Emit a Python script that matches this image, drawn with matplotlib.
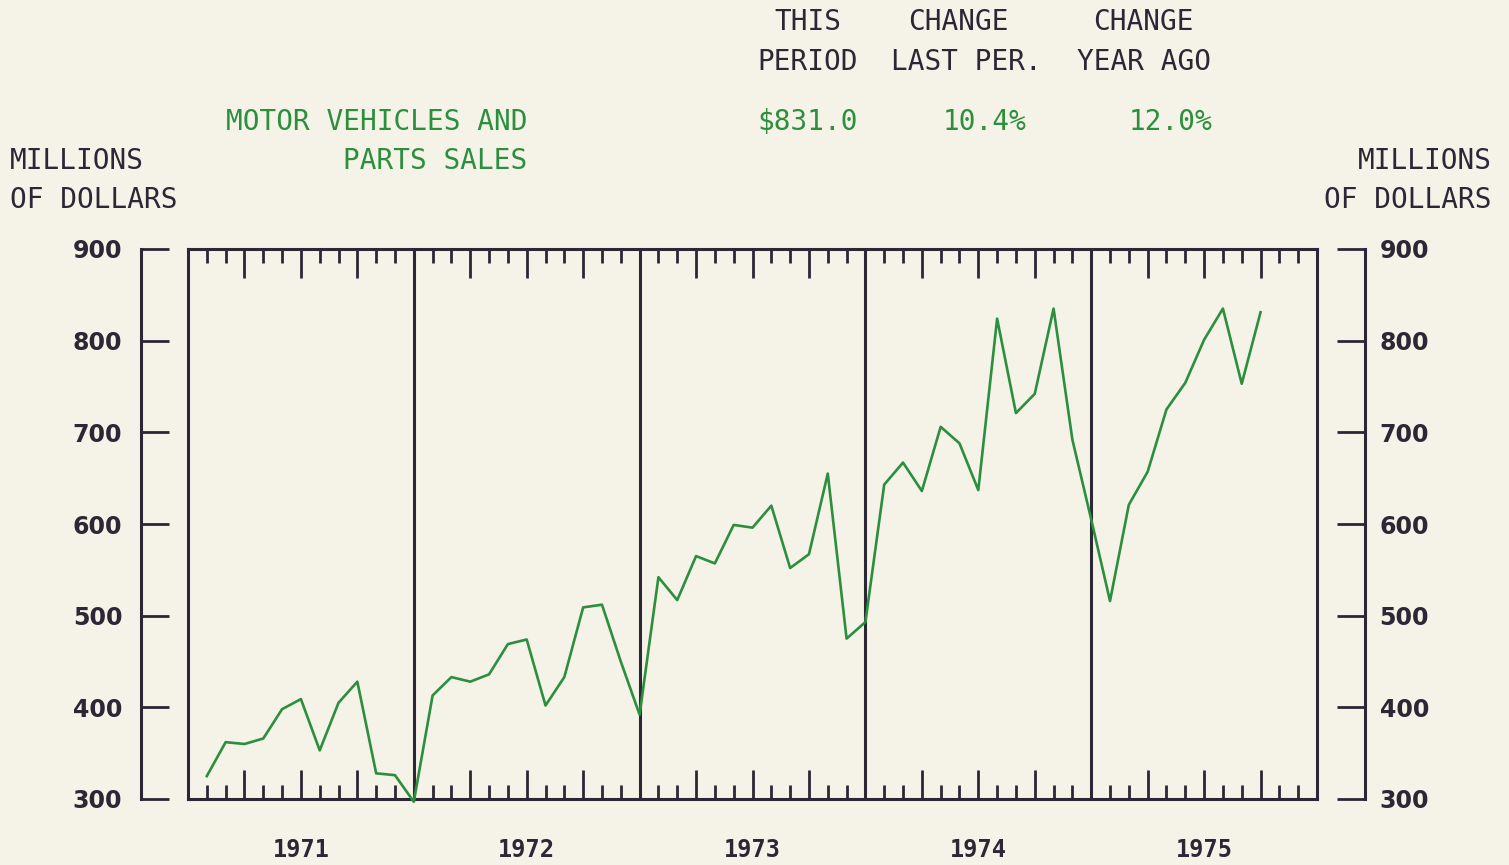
import numpy as np
import matplotlib
matplotlib.use("Agg")
import matplotlib.pyplot as plt
import matplotlib.transforms as mtransforms

# monthly sales, Jan 1971 .. Sep 1975 (millions of dollars)
sales_1971 = [325, 362, 360, 366, 398, 409, 353, 405, 428, 328, 326, 297]
sales_1972 = [413, 433, 428, 436, 469, 474, 402, 433, 509, 512, 450, 392]
sales_1973 = [542, 517, 565, 557, 599, 596, 620, 552, 567, 655, 475, 493]
sales_1974 = [643, 667, 636, 706, 688, 637, 824, 721, 742, 835, 692, 605]
sales_1975 = [516, 621, 657, 725, 754, 801, 835, 753, 831]

years = ["1971", "1972", "1973", "1974", "1975"]
y_ticks = [300, 400, 500, 600, 700, 800, 900]

title_lines = ["MOTOR VEHICLES AND", "PARTS SALES"]
col_heads = [("THIS", "PERIOD"), ("CHANGE", "LAST PER."), ("CHANGE", "YEAR AGO")]
col_values = ["$831.0", "10.4%", "12.0%"]

sales = sales_1971 + sales_1972 + sales_1973 + sales_1974 + sales_1975
months = np.arange(1, len(sales) + 1)

W, H = 1509, 865
bg = "#f5f2e8"
ink = "#2b2735"
green = "#2c8f3d"
mono = "DejaVu Sans Mono"

fig = plt.figure(figsize=(W / 100, H / 100), dpi=100, facecolor=bg)

bottom = (H - 799) / H
height = 550 / H

# main plot box
ax = fig.add_axes([188 / W, bottom, 1129 / W, height])
ax.set_facecolor(bg)
ax.set_xlim(0, 60)
ax.set_ylim(300, 900)
for s in ax.spines.values():
    s.set_color(ink)
    s.set_linewidth(2.2)

all_m = np.arange(1, 60)
major = [m for m in all_m if m % 3 == 0 and m % 12 != 0]
minor = [m for m in all_m if m % 3 != 0]
ax.set_xticks(major)
ax.set_xticks(minor, minor=True)
ax.set_yticks([])
ax.tick_params(axis="x", which="both", direction="in", top=True, bottom=True,
               labelbottom=False, colors=ink, width=2.0)
ax.tick_params(axis="x", which="major", length=21)
ax.tick_params(axis="x", which="minor", length=10)

for d in [12, 24, 36, 48]:
    ax.axvline(d, color=ink, lw=2.2)

ax.plot(months, sales, color=green, lw=1.9, clip_on=False, zorder=5,
        solid_joinstyle="round")

trans = mtransforms.blended_transform_factory(ax.transData, ax.transAxes)
for i, yr in enumerate(years):
    ax.text(i * 12 + 6, -0.092, yr, transform=trans, ha="center", va="center",
            fontsize=17, fontweight="bold", family=mono, color=ink)

# left and right value scales
axl = fig.add_axes([141 / W, bottom, 28 / W, height])
axr = fig.add_axes([1337 / W, bottom, 28 / W, height])
for a, side in [(axl, "left"), (axr, "right")]:
    a.patch.set_alpha(0)
    a.set_ylim(300, 900)
    a.set_xticks([])
    a.set_yticks(y_ticks)
    for k, s in a.spines.items():
        s.set_visible(k == side)
        s.set_color(ink)
        s.set_linewidth(2.2)
    a.yaxis.set_ticks_position(side)
    a.tick_params(axis="y", direction="in", length=20, width=2.0, colors=ink,
                  labelsize=17)
    for lab in a.get_yticklabels():
        lab.set_fontweight("bold")
axl.tick_params(axis="y", pad=13.5)
axr.tick_params(axis="y", pad=10.5)

# header texts
def ftext(x, y, s, ha="left", color=ink, size=20):
    fig.text(x / W, 1 - y / H, s, ha=ha, va="center", family=mono,
             fontsize=size, color=color)

ftext(527, 122, title_lines[0], ha="right", color=green)
ftext(527, 161, title_lines[1], ha="right", color=green)

ftext(10, 161, "MILLIONS")
ftext(10, 200, "OF DOLLARS")
ftext(1492, 161, "MILLIONS", ha="right")
ftext(1492, 200, "OF DOLLARS", ha="right")

head_x = [808, 958, 1143]
sub_x = [808, 966, 1144]
val_x = [808, 985, 1171]
for (h1, h2), hx, sx, v, vx in zip(col_heads, head_x, sub_x, col_values, val_x):
    ftext(hx, 22, h1, ha="center")
    ftext(sx, 62, h2, ha="center")
    ftext(vx, 122, v, ha="center", color=green)

fig.savefig("out.png", dpi=100, facecolor=bg)
